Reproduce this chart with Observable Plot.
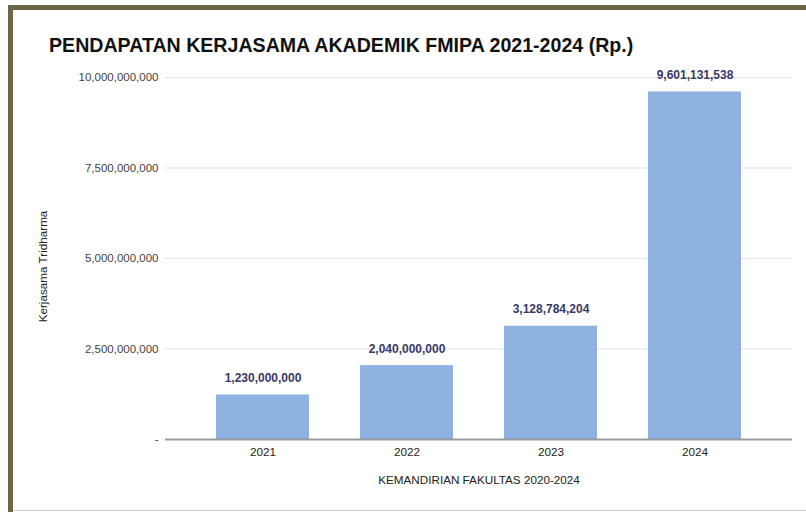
<!DOCTYPE html>
<html>
<head>
<meta charset="utf-8">
<script src="https://cdn.jsdelivr.net/npm/d3@7"></script>
<script src="https://cdn.jsdelivr.net/npm/@observablehq/plot@0.6"></script>
<style>
  html, body { margin: 0; padding: 0; background: #fff; }
  #wrap { position: relative; width: 806px; height: 512px; overflow: hidden; font-family: "Liberation Sans", Arial, sans-serif; background: #fff; }
  #wrap svg { position: absolute; left: 0; top: 0; }
  .b-top { position: absolute; left: 8px; top: 5px; width: 798px; height: 5px; background: #6f6349; }
  .b-left { position: absolute; left: 8px; top: 5px; width: 5px; height: 507px; background: #6f6349; }
  .b-bot { position: absolute; left: 13px; top: 510px; width: 793px; height: 1px; background: #cfcfcf; }
  #title { position: absolute; left: 49px; top: 36px; font-size: 19.6px; line-height: 19.6px; font-weight: bold; color: #111; white-space: nowrap; }
</style>
</head>
<body>
<div id="wrap">
  <div id="title">PENDAPATAN KERJASAMA AKADEMIK FMIPA 2021-2024 (Rp.)</div>
</div>
<script>
const years = ["2021", "2022", "2023", "2024"];
const values = [1230000000, 2040000000, 3128784204, 9601131538];
const yTicks = [0, 2500000000, 5000000000, 7500000000, 10000000000];
const xLabel = "KEMANDIRIAN FAKULTAS 2020-2024";
const yLabel = "Kerjasama Tridharma";

const data = years.map((y, i) => ({year: y, value: values[i]}));
const fmt = d3.format(",");

const chart = Plot.plot({
  width: 806,
  height: 512,
  marginLeft: 165,
  marginRight: 14,
  marginTop: 77,
  marginBottom: 73,
  style: {fontFamily: "'Liberation Sans', Arial, sans-serif", background: "transparent"},
  x: {domain: years, padding: 0.354},
  y: {domain: [0, 10000000000]},
  marks: [
    Plot.gridY(yTicks, {stroke: "#e3e3e3", strokeOpacity: 1, strokeWidth: 1}),
    Plot.axisY(yTicks, {tickSize: 0, tickPadding: 7, label: null, fontSize: 11.5, fill: "#444",
      tickFormat: d => d === 0 ? "-" : fmt(d)}),
    Plot.barY(data, {x: "year", y: "value", fill: "#8eb3e2"}),
    Plot.ruleY([0], {stroke: "#9a9a9a", strokeWidth: 2}),
    Plot.axisX({tickSize: 0, tickPadding: 8, label: null, fontSize: 11.7, fill: "#222"}),
    Plot.text(data, {x: "year", y: "value", text: d => fmt(d.value), lineAnchor: "bottom", dy: -13,
      fontSize: 12, fontWeight: "bold", fill: "#3a3868"}),
    Plot.text([xLabel], {frameAnchor: "bottom", dy: 41, lineAnchor: "middle", fontSize: 11.7, fill: "#222"}),
    Plot.text([yLabel], {frameAnchor: "left", textAnchor: "middle", rotate: -90, dx: -122, dy: 8, fontSize: 11.7, fill: "#222"})
  ]
});

const wrap = document.getElementById("wrap");
wrap.insertBefore(chart, wrap.firstChild);
["b-top", "b-left", "b-bot"].forEach(c => {
  const d = document.createElement("div");
  d.className = c;
  wrap.appendChild(d);
});
</script>
</body>
</html>
